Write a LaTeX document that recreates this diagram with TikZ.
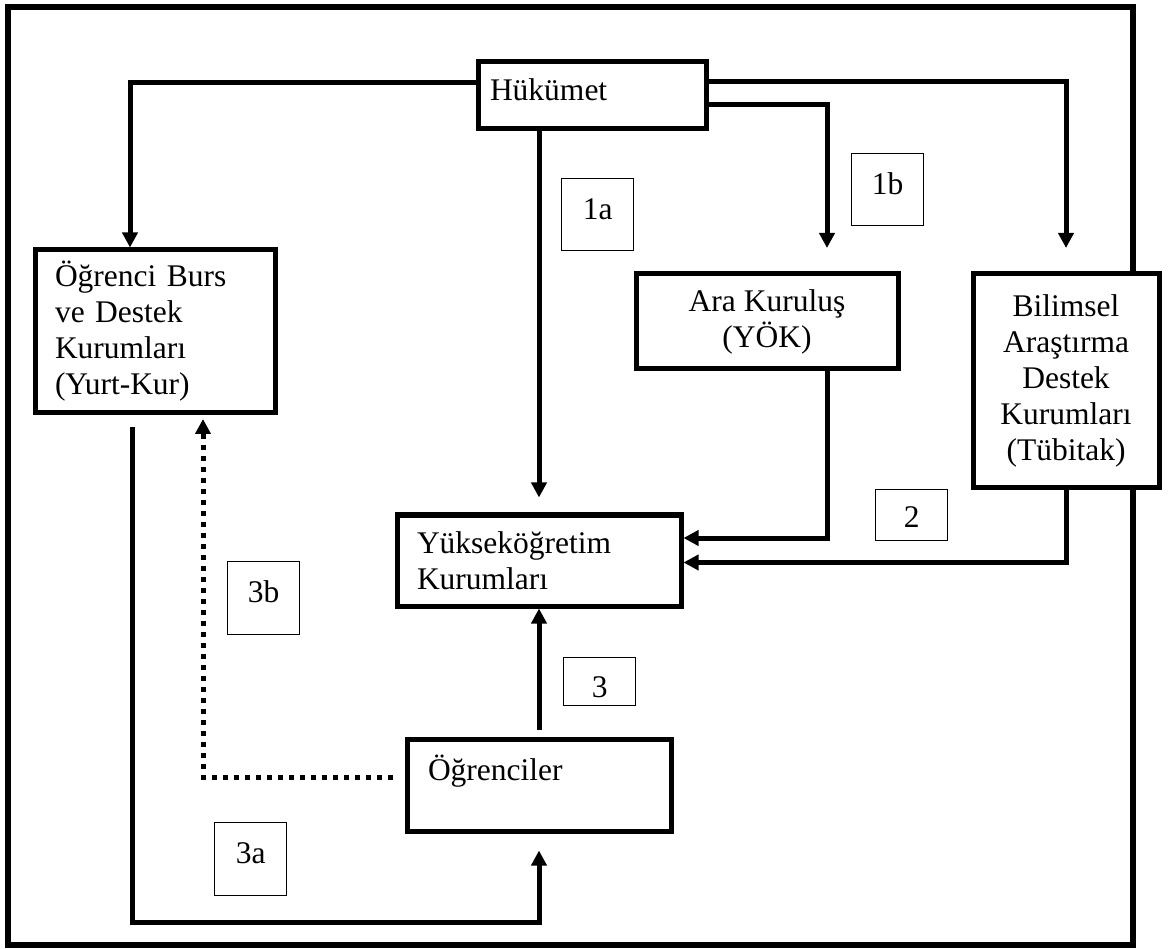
\documentclass[tikz,border=0pt]{standalone}
\usepackage{fontspec}
\setmainfont{Liberation Serif}
\usetikzlibrary{arrows.meta}
\begin{document}
\begin{tikzpicture}[x=1pt,y=-1pt,
  box/.style={draw, line width=5pt, fill=white, inner sep=0pt, font=\fontsize{31.5}{36}\selectfont},
  lbl/.style={draw, line width=1.3pt, inner sep=0pt, anchor=north west, align=center, minimum width=72pt, font=\fontsize{31.5}{36}\selectfont},
  conn/.style={line width=5pt, -{Triangle[width=15pt,length=15pt]}},
  dots/.style={conn, dash pattern=on 5pt off 6pt},
]
\useasboundingbox (0,0) rectangle (1168,949);
\draw[line width=6pt] (8,7) rectangle (1133,945);

\node[box, minimum width=228pt, minimum height=67pt, text width=204pt, align=left, text height=21.5pt, text depth=12pt] (huk) at (592,95.5) {Hükümet};
\node[box, minimum width=240pt, minimum height=163pt, text width=200pt, align=left] (burs) at (155,331.5) {Öğrenci Burs\\ve Destek\\Kurumları\\(Yurt-Kur)};
\node[box, minimum width=262pt, minimum height=95pt, align=center] (ara) at (767,321.5) {Ara Kuruluş\\(YÖK)};
\node[box, minimum width=186pt, minimum height=214pt, align=center] (tub) at (1066,381) {Bilimsel\\Araştırma\\Destek\\Kurumları\\(Tübitak)};
\node[box, minimum width=284pt, minimum height=91pt, text width=244pt, align=left] (yuk) at (539,560.5) {Yükseköğretim\\Kurumları};
\node[box, minimum width=264pt, minimum height=92pt, text width=222pt, align=left, text height=29pt, text depth=39pt] (ogr) at (539,785) {Öğrenciler};

\node[lbl, minimum height=72pt, text height=40.5pt, text depth=31.5pt] (l1a) at (561,178) {1a};
\node[lbl, minimum height=72pt, text height=40.5pt, text depth=31.5pt] (l1b) at (851,153) {1b};
\node[lbl, minimum height=51pt, text height=38pt, text depth=13pt] (l2) at (875,489) {2};
\node[lbl, minimum height=48pt, text height=40pt, text depth=8pt] (l3) at (563,657) {3};
\node[lbl, minimum height=73pt, text height=40.5pt, text depth=32.5pt] (l3a) at (214,822) {3a};
\node[lbl, minimum height=73pt, text height=40.5pt, text depth=32.5pt] (l3b) at (227,561) {3b};

\draw[conn] ([yshift=13pt]huk.west) -| ([xshift=-25pt]burs.north);
\draw[conn] (huk.south -| yuk.north) -- ([yshift=15pt]yuk.north);
\draw[conn] ([yshift=14pt]huk.east) -| ([yshift=23.5pt]tub.north);
\draw[conn] ([yshift=-9.5pt]huk.east) -| ([xshift=-73.5pt,yshift=23.5pt]ara.north east);
\draw[conn] ([xshift=-73.5pt]ara.south east) |- ([yshift=22.5pt]yuk.east);
\draw[conn] (tub.south) |- ([yshift=-2pt]yuk.east);
\draw[conn] ([yshift=7pt]ogr.north) -- (yuk.south);
\draw[conn] ([xshift=-23pt,yshift=-12pt]burs.south) |- ([yshift=-88.5pt]ogr.south) -- ([yshift=-17pt]ogr.south);
\draw[dots] ([xshift=-11.5pt,yshift=8pt]ogr.west) -| ([xshift=48pt,yshift=-3.5pt]burs.south);
\end{tikzpicture}
\end{document}
